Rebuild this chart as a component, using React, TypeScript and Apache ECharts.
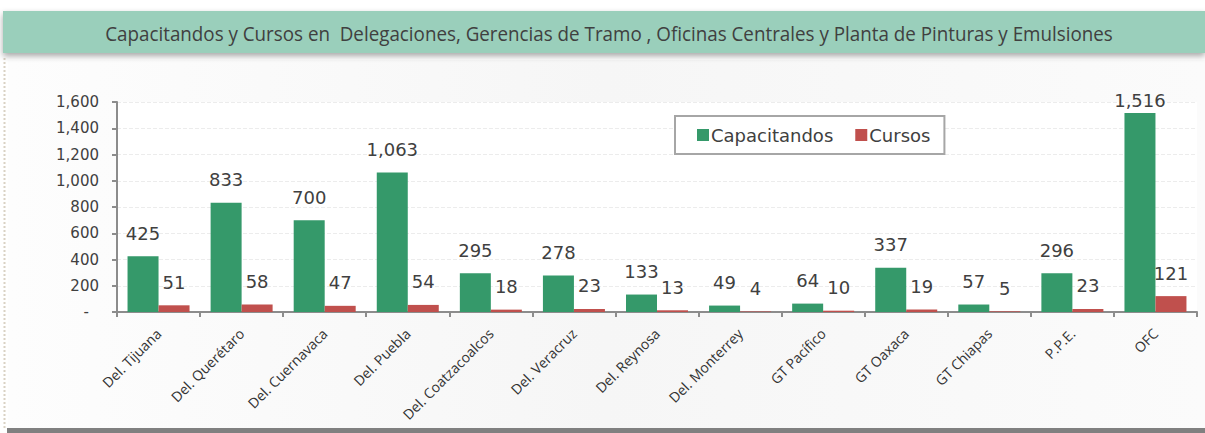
import React, { useEffect, useRef } from "react";
import * as echarts from "echarts";

const titleText =
  "Capacitandos y Cursos en  Delegaciones, Gerencias de Tramo , Oficinas Centrales y Planta de Pinturas y Emulsiones";
const categories = [
  "Del. Tijuana",
  "Del. Querétaro",
  "Del. Cuernavaca",
  "Del. Puebla",
  "Del. Coatzacoalcos",
  "Del. Veracruz",
  "Del. Reynosa",
  "Del. Monterrey",
  "GT Pacífico",
  "GT Oaxaca",
  "GT Chiapas",
  "P.P.E.",
  "OFC",
];
const capacitandos = [425, 833, 700, 1063, 295, 278, 133, 49, 64, 337, 57, 296, 1516];
const cursos = [51, 58, 47, 54, 18, 23, 13, 4, 10, 19, 5, 23, 121];
const yTicks = [0, 200, 400, 600, 800, 1000, 1200, 1400, 1600];

const fmt = (v: number) => v.toLocaleString("en-US");

export default function App() {
  const ref = useRef<HTMLDivElement>(null);
  useEffect(() => {
    const chart = echarts.init(ref.current!, null, { renderer: "svg" });
    const labelStyle = {
      show: true,
      position: "top" as const,
      distance: 14,
      fontFamily: "DejaVu Sans",
      fontSize: 18,
      color: "#404040",
      formatter: (p: any) => fmt(p.value),
    };
    const yMax = yTicks[yTicks.length - 1];
    chart.setOption({
      animation: false,
      backgroundColor: "#ffffff",
      graphic: [
        {
          type: "rect",
          z: -10,
          shape: { x: 8, y: 60, width: 1197, height: 369 },
          style: {
            fill: new echarts.graphic.LinearGradient(0, 0, 1, 0, [
              { offset: 0, color: "#fdfdfd" },
              { offset: 0.5, color: "#f6f6f6" },
              { offset: 1, color: "#fbfbfb" },
            ]),
          },
        },
        {
          type: "line",
          shape: { x1: 4.5, y1: 58, x2: 4.5, y2: 429 },
          style: { stroke: "#d9d2c4", lineWidth: 2, lineDash: [2, 2] },
        },
        {
          type: "rect",
          shape: { x: 7, y: 428, width: 1198, height: 5 },
          style: { fill: "#808080" },
        },
        {
          type: "rect",
          shape: { x: 3, y: 11, width: 1202, height: 42 },
          style: {
            fill: "#9ACFBB",
            shadowBlur: 6,
            shadowOffsetY: 3,
            shadowColor: "rgba(0,0,0,0.35)",
          },
        },
        {
          type: "text",
          x: 609,
          y: 33,
          scaleX: 0.917,
          style: {
            text: titleText,
            fill: "#404040",
            font: '20.5px "Open Sans"',
            align: "center",
            verticalAlign: "middle",
          },
        },
      ],
      legend: {
        left: 675,
        top: 116,
        width: 267,
        height: 40,
        padding: [10, 14, 10, 22],
        backgroundColor: "#ffffff",
        borderColor: "#a6a6a6",
        borderWidth: 2,
        itemWidth: 12,
        itemHeight: 12,
        itemGap: 22,
        icon: "rect",
        textStyle: { fontFamily: "DejaVu Sans", fontSize: 18, color: "#404040", padding: [0, 0, 0, -3] },
        data: ["Capacitandos", "Cursos"],
      },
      grid: {
        left: 117,
        right: 8,
        top: 102,
        bottom: 121,
        show: true,
        backgroundColor: "#ffffff",
        borderWidth: 0,
      },
      xAxis: {
        type: "category",
        data: categories,
        axisLine: { lineStyle: { color: "#8c8c8c", width: 2 } },
        axisTick: { show: true, length: 5, lineStyle: { color: "#8c8c8c", width: 2 } },
        axisLabel: {
          rotate: 45,
          interval: 0,
          margin: 19,
          fontFamily: "Open Sans",
          fontSize: 14,
          color: "#333333",
        },
      },
      yAxis: {
        type: "value",
        min: 0,
        max: yMax,
        interval: 200,
        axisLine: { show: true, lineStyle: { color: "#8c8c8c", width: 2 } },
        axisTick: { show: true, length: 5, lineStyle: { color: "#8c8c8c", width: 2 } },
        splitLine: { lineStyle: { color: "#ececec", type: "dashed" } },
        axisLabel: {
          margin: 18,
          fontFamily: "DejaVu Sans",
          fontSize: 15,
          color: "#404040",
          formatter: (v: number) => (v === 0 ? "{d|-}" : fmt(v)),
          rich: { d: { padding: [0, 10, 0, 0], fontSize: 15, color: "#404040" } },
        },
      },
      series: [
        {
          name: "Capacitandos",
          type: "bar",
          barWidth: 31,
          barGap: "0%",
          itemStyle: { color: "#35996A" },
          label: labelStyle,
          data: capacitandos.map((v, i) =>
            i === capacitandos.length - 1 ? { value: v, label: { distance: 4 } } : v
          ),
        },
        {
          name: "Cursos",
          type: "bar",
          barWidth: 31,
          barGap: "0%",
          itemStyle: { color: "#C0504D" },
          label: labelStyle,
          data: cursos,
        },
      ],
    });
    return () => chart.dispose();
  }, []);
  return (
    <div
      ref={ref}
      style={{ position: "fixed", left: 0, top: 0, width: 1205, height: 433 }}
    />
  );
}
